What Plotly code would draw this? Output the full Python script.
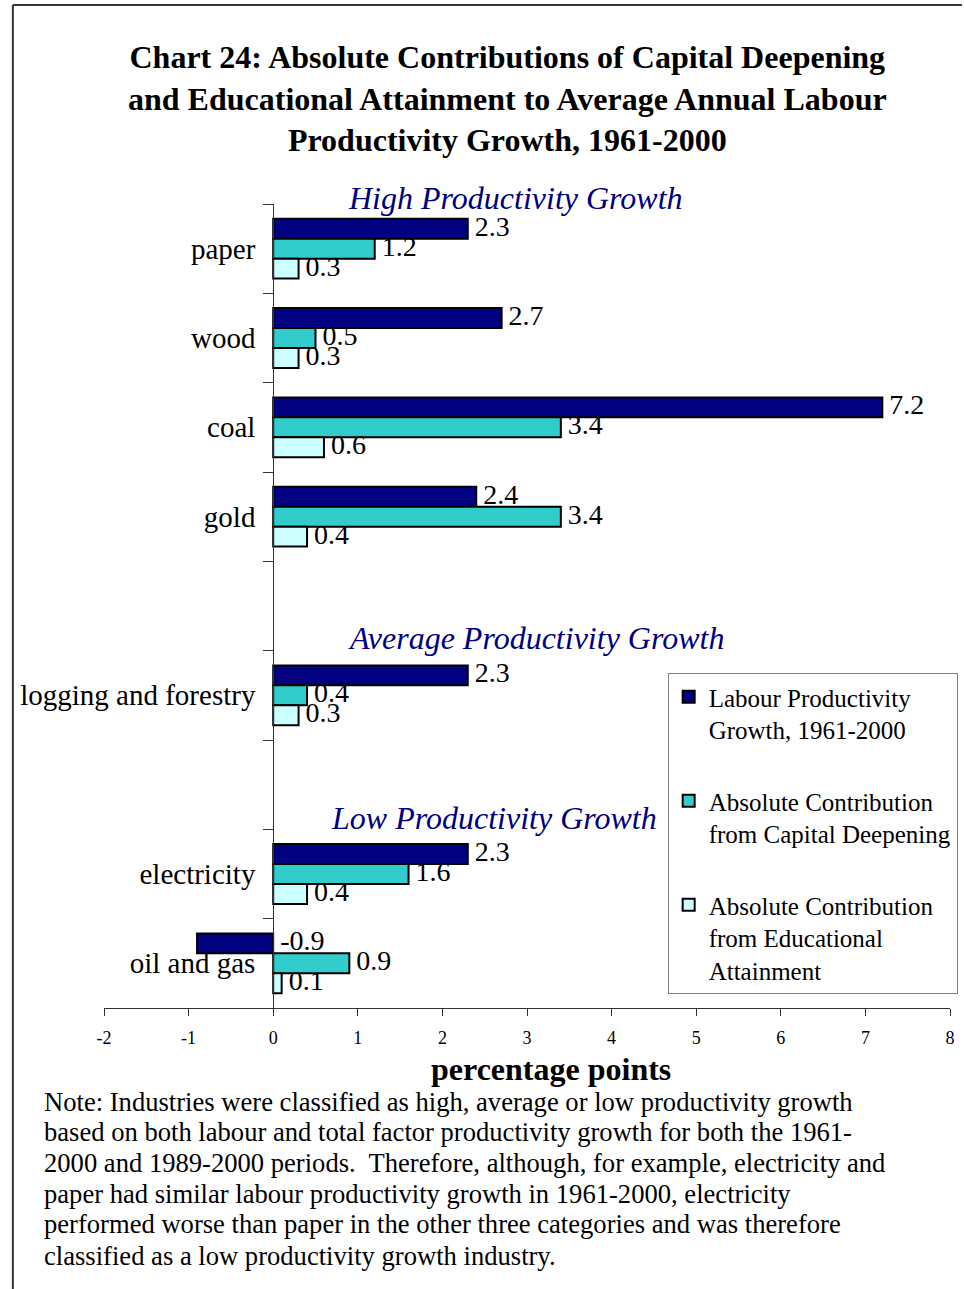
import plotly.graph_objects as go

# ---------------- data ----------------
industries = ["paper", "wood", "coal", "gold", "logging and forestry", "electricity", "oil and gas"]
axis_rows = ["paper", "wood", "coal", "gold", " ", "logging and forestry", "  ", "electricity", "oil and gas"]
labour = [2.3, 2.7, 7.2, 2.4, 2.3, 2.3, -0.9]
capital = [1.2, 0.5, 3.4, 3.4, 0.4, 1.6, 0.9]
education = [0.3, 0.3, 0.6, 0.4, 0.3, 0.4, 0.1]
series_names = [
    "Labour Productivity<br>Growth, 1961-2000",
    "Absolute Contribution<br>from Capital Deepening",
    "Absolute Contribution<br>from Educational<br>Attainment",
]
group_labels = ["High Productivity Growth", "Average Productivity Growth", "Low Productivity Growth"]
x_ticks = [-2, -1, 0, 1, 2, 3, 4, 5, 6, 7, 8]

title_text = ("<b>Chart 24: Absolute Contributions of Capital Deepening<br>"
              "and Educational Attainment to Average Annual Labour<br>"
              "Productivity Growth, 1961-2000</b>")
note_lines = [
    "Note: Industries were classified as high, average or low productivity growth",
    "based on both labour and total factor productivity growth for both the 1961-",
    "2000 and 1989-2000 periods.  Therefore, although, for example, electricity and",
    "paper had similar labour productivity growth in 1961-2000, electricity",
    "performed worse than paper in the other three categories and was therefore",
    "classified as a low productivity growth industry.",
]

# ---------------- layout helpers ----------------
W, H = 964, 1289
L, R, T, B = 104, 6, 204, 281
FONT = "Liberation Serif, Times New Roman, serif"


def px(x):
    return (x - L) / (W - L - R)


def py(y):
    return (H - B - y) / (H - T - B)


colors = ["#000080", "#33CCCC", "#CCFFFF"]
series = [labour, capital, education]

fig = go.Figure()
for i, (name, vals, col) in enumerate(zip(series_names, series, colors)):
    fig.add_trace(go.Bar(
        x=vals, y=industries, orientation="h", name=name,
        marker=dict(color=col, line=dict(color="black", width=2)),
        offsetgroup=str(i), legendgroup=str(i), hoverinfo="skip",
    ))
for i, vals in enumerate(series):
    fig.add_trace(go.Scatter(
        x=[max(v, 0) for v in vals], y=industries, orientation="h",
        mode="text", text=[f" {v:.1f}" for v in vals],
        textposition="middle right",
        textfont=dict(family=FONT, size=28, color="black"),
        offsetgroup=str(i), showlegend=False, cliponaxis=False, hoverinfo="skip",
    ))

annotations = [
    dict(text=title_text, x=px(511), y=py(98), xref="paper", yref="paper",
         xanchor="center", yanchor="middle", showarrow=False,
         font=dict(family=FONT, size=32, color="black")),
    dict(text="<b>percentage points</b>", x=px(555), y=py(1069), xref="paper", yref="paper",
         xanchor="center", yanchor="middle", showarrow=False,
         font=dict(family=FONT, size=32, color="black")),
]
for line, ly in zip(note_lines, [1102, 1132, 1163, 1194, 1224, 1256]):
    annotations.append(dict(
        text=line, x=px(41), y=py(ly), xref="paper", yref="paper",
        xanchor="left", yanchor="middle", align="left", showarrow=False,
        font=dict(family=FONT, size=26.6, color="black")))
for lab, (cx, cy) in zip(group_labels, [(519, 198), (540, 638), (498, 818)]):
    annotations.append(dict(
        text=f"<i>{lab}</i>", x=px(cx), y=py(cy), xref="paper", yref="paper",
        xanchor="center", yanchor="middle", showarrow=False,
        font=dict(family=FONT, size=32, color="#000080")))

shapes = [
    dict(type="line", xref="paper", yref="paper", x0=px(12), x1=px(970), y0=py(5), y1=py(5),
         line=dict(color="#333333", width=2)),
    dict(type="line", xref="paper", yref="paper", x0=px(12), x1=px(12), y0=py(5), y1=py(1300),
         line=dict(color="#333333", width=2)),
]

fig.update_layout(
    width=W, height=H,
    margin=dict(l=L, r=R, t=T, b=B),
    paper_bgcolor="white", plot_bgcolor="white",
    barmode="group", bargap=0.33, bargroupgap=0,
    scattermode="group", scattergap=0.33,
    font=dict(family=FONT, color="black"),
    showlegend=True,
    legend=dict(
        x=px(673), y=py(673), xanchor="left", yanchor="top",
        xref="paper", yref="paper",
        bordercolor="#808080", borderwidth=1, bgcolor="white",
        font=dict(family=FONT, size=25, color="black"),
        traceorder="grouped", tracegroupgap=36, valign="top",
        itemwidth=30,
    ),
    annotations=annotations,
    shapes=shapes,
    xaxis=dict(
        range=[-2, 8], tickvals=x_ticks, ticktext=[str(v) for v in x_ticks],
        ticks="outside", ticklen=7, tickcolor="#333333",
        showline=True, linecolor="#333333", linewidth=1,
        showgrid=False, zeroline=False,
        tickfont=dict(family=FONT, size=18, color="black"),
        ticklabelstandoff=6,
    ),
    yaxis=dict(
        type="category", categoryorder="array", categoryarray=axis_rows,
        range=[8.5, -0.5], anchor="free", position=0.2,
        showline=True, linecolor="#333333", linewidth=1,
        ticks="outside", ticklen=10, tickcolor="#333333", tickson="boundaries",
        showgrid=False, zeroline=False,
        tickfont=dict(family=FONT, size=29, color="black"),
        ticklabelstandoff=12,
    ),
)

fig.write_html("out.html", config={"displayModeBar": False},
               post_script="document.body.style.margin='0px';")
